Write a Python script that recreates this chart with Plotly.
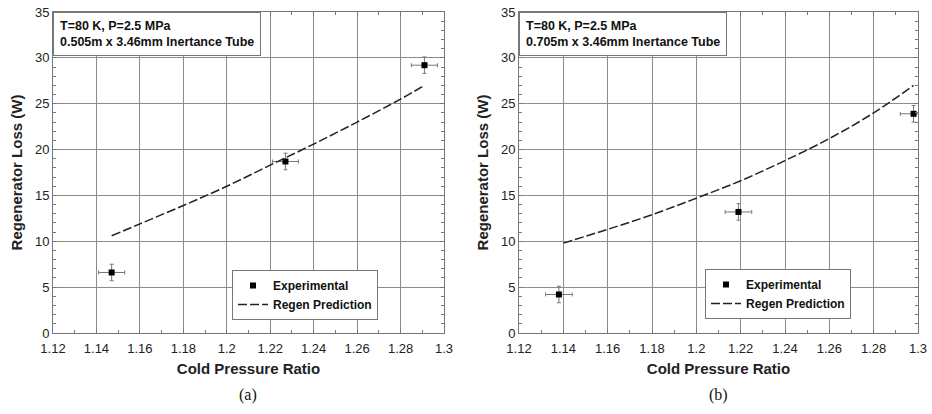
import plotly.graph_objects as go

# ---- data ----
exp_a_x = [1.147, 1.227, 1.291]
exp_a_y = [6.6, 18.7, 29.2]
exp_a_xerr = [0.006, 0.006, 0.006]
exp_a_yerr = [0.9, 0.9, 0.9]
pred_a_x = [1.147, 1.16, 1.18, 1.20, 1.22, 1.24, 1.26, 1.28, 1.291]
pred_a_y = [10.6, 11.9, 13.9, 16.0, 18.3, 20.6, 23.0, 25.5, 27.0]

exp_b_x = [1.138, 1.219, 1.298]
exp_b_y = [4.2, 13.2, 23.9]
exp_b_xerr = [0.006, 0.006, 0.006]
exp_b_yerr = [0.9, 0.9, 0.9]
pred_b_x = [1.14, 1.16, 1.18, 1.20, 1.22, 1.24, 1.26, 1.28, 1.298]
pred_b_y = [9.8, 11.3, 12.9, 14.7, 16.6, 18.8, 21.2, 24.0, 27.0]

notes_a = ["T=80 K, P=2.5 MPa", "0.505m x 3.46mm Inertance Tube"]
notes_b = ["T=80 K, P=2.5 MPa", "0.705m x 3.46mm Inertance Tube"]
panel_labels = ["(a)", "(b)"]

x_title = "Cold Pressure Ratio"
y_title = "Regenerator Loss (W)"

W, H = 932, 414
FONT = "Liberation Sans, Arial"
fig = go.Figure()

panels = [
    ("x", "y", "legend", exp_a_x, exp_a_y, exp_a_xerr, exp_a_yerr, pred_a_x, pred_a_y),
    ("x2", "y2", "legend2", exp_b_x, exp_b_y, exp_b_xerr, exp_b_yerr, pred_b_x, pred_b_y),
]
for xa, ya, lg, ex, ey, exe, eye, px, py in panels:
    fig.add_trace(go.Scatter(
        x=ex, y=ey, mode="markers", name="<b>Experimental</b>", xaxis=xa, yaxis=ya, legend=lg,
        marker=dict(symbol="square", size=6, color="black"),
        error_x=dict(type="data", array=exe, color="#777", thickness=1, width=2),
        error_y=dict(type="data", array=eye, color="#777", thickness=1, width=2),
    ))
    fig.add_trace(go.Scatter(
        x=px, y=py, mode="lines", name="<b>Regen Prediction</b>", xaxis=xa, yaxis=ya, legend=lg,
        line=dict(color="#222", width=1.5, dash="9px,3px", shape="spline"),
    ))

dom_y = [(414 - 333) / H, (414 - 12) / H]
axis_common = dict(
    showgrid=True, gridcolor="#8c8c8c", gridwidth=1,
    showline=True, linecolor="#777", linewidth=1, mirror="ticks",
    ticks="inside", ticklen=4, tickcolor="#777", zeroline=False, automargin=False,
    tickfont=dict(family=FONT, size=13, color="#222"),
)
xaxis_common = dict(axis_common, range=[1.12, 1.3], dtick=0.02, tick0=1.12,
                    ticklabelstandoff=3,
                    minor=dict(ticks="inside", dtick=0.01, ticklen=3, tickcolor="#777", showgrid=False),
                    title=dict(text="<b>" + x_title + "</b>", font=dict(family=FONT, size=15, color="#222"), standoff=8))
yaxis_common = dict(axis_common, range=[0, 35], dtick=5,
                    minor=dict(ticks="inside", dtick=1, ticklen=3, tickcolor="#777", showgrid=False),
                    title=dict(text="<b>" + y_title + "</b>", font=dict(family=FONT, size=15, color="#222"), standoff=8))

legend_common = dict(xref="paper", yref="paper", xanchor="left", yanchor="top",
                     bgcolor="white", bordercolor="#777", borderwidth=1,
                     font=dict(family=FONT, size=12, color="#111"),
                     tracegroupgap=0, itemwidth=30)

fig.update_layout(
    width=W, height=H,
    margin=dict(l=0, r=0, t=0, b=0),
    paper_bgcolor="white", plot_bgcolor="white",
    xaxis=dict(xaxis_common, domain=[53 / W, 444 / W], anchor="y"),
    yaxis=dict(yaxis_common, domain=dom_y, anchor="x"),
    xaxis2=dict(xaxis_common, domain=[519 / W, 918 / W], anchor="y2"),
    yaxis2=dict(yaxis_common, domain=dom_y, anchor="x2"),
    legend=dict(legend_common, x=232 / W, y=(414 - 270) / H),
    legend2=dict(legend_common, x=705 / W, y=(414 - 269) / H),
    showlegend=True,
)

for xr, yr, notes in [("x domain", "y domain", notes_a), ("x2 domain", "y2 domain", notes_b)]:
    fig.add_annotation(
        x=0, y=1, xref=xr, yref=yr, xanchor="left", yanchor="top",
        text="<b>" + notes[0] + "</b><br><b>" + notes[1] + "</b>",
        showarrow=False, align="left",
        font=dict(family=FONT, size=12.5, color="#111"),
        bgcolor="white", bordercolor="#777", borderwidth=1, borderpad=6,
    )

for cx, lab in zip([248 / W, 718 / W], panel_labels):
    fig.add_annotation(x=cx, y=(414 - 395) / H, xref="paper", yref="paper",
                       text=lab, showarrow=False, xanchor="center", yanchor="middle",
                       font=dict(family="Liberation Serif, Times New Roman", size=16, color="#111"))

fig.write_html("out.html", config={"displayModeBar": False},
               post_script="document.body.style.margin='0';document.body.style.padding='0';document.body.style.overflow='hidden';")
